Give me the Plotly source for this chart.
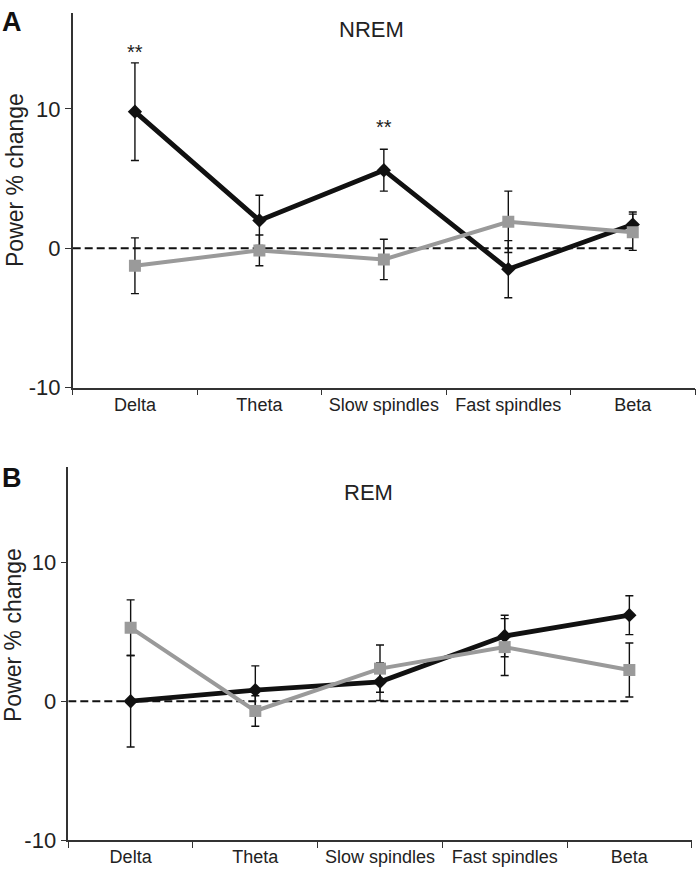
import plotly.graph_objects as go

categories = ["Delta", "Theta", "Slow spindles", "Fast spindles", "Beta"]

nrem_black = [9.8, 2.0, 5.6, -1.5, 1.7]
nrem_black_err = [3.5, 1.8, 1.5, 2.05, 0.9]
nrem_gray = [-1.25, -0.15, -0.8, 1.9, 1.15]
nrem_gray_err = [2.0, 1.1, 1.45, 2.2, 1.3]

rem_black = [0.0, 0.8, 1.4, 4.7, 6.2]
rem_black_err = [3.3, 1.75, 1.35, 1.5, 1.4]
rem_gray = [5.3, -0.7, 2.35, 3.9, 2.25]
rem_gray_err = [2.0, 1.1, 1.7, 2.05, 1.95]

y_ticks = [-10, 0, 10]
y_ticktext = ["-10", "0", "10"]
y_range = [-10, 16.9]

FONT = "Liberation Sans, Arial, sans-serif"
W, H = 696, 870
BLACK = "#111111"
GRAY = "#9a9a9a"

fig = go.Figure()


def add_panel(xa, ya, black, black_err, gray, gray_err):
    fig.add_trace(go.Scatter(
        x=categories, y=black, xaxis=xa, yaxis=ya, mode="lines+markers",
        line=dict(color=BLACK, width=4.8),
        marker=dict(symbol="diamond", size=11, color=BLACK),
        error_y=dict(type="data", array=black_err, color="#111111",
                     thickness=1.4, width=4),
        showlegend=False, name="black"))
    fig.add_trace(go.Scatter(
        x=categories, y=gray, xaxis=xa, yaxis=ya, mode="lines+markers",
        line=dict(color=GRAY, width=4),
        marker=dict(symbol="square", size=12, color=GRAY),
        error_y=dict(type="data", array=gray_err, color="#111111",
                     thickness=1.4, width=4),
        showlegend=False, name="gray"))


add_panel("x", "y", nrem_black, nrem_black_err, nrem_gray, nrem_gray_err)
add_panel("x2", "y2", rem_black, rem_black_err, rem_gray, rem_gray_err)


def px_x(p):
    return p / W


def px_y(p):
    return (H - p) / H


axis_common = dict(showline=True, linecolor="#333333", linewidth=1.5,
                   ticks="outside", ticklen=6, tickwidth=1.3, tickcolor="#333333",
                   showgrid=False, zeroline=False, automargin=False)

xcommon = dict(axis_common, type="category", tickson="boundaries",
               tickfont=dict(family=FONT, size=18, color="#222222"),
               range=[-0.5, 4.5])
ycommon = dict(axis_common, range=y_range, tickvals=y_ticks, ticktext=y_ticktext,
               tickfont=dict(family=FONT, size=22, color="#222222"))

fig.update_layout(
    width=W, height=H,
    margin=dict(l=0, r=0, t=0, b=0),
    paper_bgcolor="white", plot_bgcolor="white",
    xaxis=dict(xcommon, domain=[px_x(72.7), px_x(695)], anchor="y"),
    yaxis=dict(ycommon, domain=[px_y(387.7), px_y(12.7)], anchor="x"),
    xaxis2=dict(xcommon, domain=[px_x(68.3), px_x(691.7)], anchor="y2"),
    yaxis2=dict(ycommon, domain=[px_y(840), px_y(466.7)], anchor="x2"),
)

for xr, yr in (("x", "y"), ("x2", "y2")):
    fig.add_shape(type="line", xref=xr, yref=yr, x0=-0.5, x1=4, y0=0, y1=0,
                  line=dict(color=BLACK, width=2, dash="8px,4px"), layer="below")

ann = []
# panel letters
ann.append(dict(text="<b>A</b>", x=px_x(0), y=px_y(22), xanchor="left", yanchor="middle",
                font=dict(family=FONT, size=27, color="#111111")))
ann.append(dict(text="<b>B</b>", x=px_x(0), y=px_y(478), xanchor="left", yanchor="middle",
                font=dict(family=FONT, size=27, color="#111111")))
# panel titles
ann.append(dict(text="NREM", x=px_x(371), y=px_y(30), xanchor="center", yanchor="middle",
                font=dict(family=FONT, size=22, color="#222222")))
ann.append(dict(text="REM", x=px_x(368), y=px_y(492), xanchor="center", yanchor="middle",
                font=dict(family=FONT, size=22, color="#222222")))
# y titles
ann.append(dict(text="Power % change", x=px_x(15), y=px_y(180), xanchor="center", yanchor="middle",
                textangle=-90, font=dict(family=FONT, size=23, color="#222222")))
ann.append(dict(text="Power % change", x=px_x(13), y=px_y(635), xanchor="center", yanchor="middle",
                textangle=-90, font=dict(family=FONT, size=23, color="#222222")))
for a in ann:
    a.update(xref="paper", yref="paper", showarrow=False)
    fig.add_annotation(**a)

# significance markers
fig.add_annotation(text="**", x="Delta", y=14.1, xref="x", yref="y", showarrow=False,
                   font=dict(family=FONT, size=20, color="#222222"))
fig.add_annotation(text="**", x="Slow spindles", y=8.7, xref="x", yref="y", showarrow=False,
                   font=dict(family=FONT, size=20, color="#222222"))

fig.write_html("out.html", config={"displayModeBar": False},
               post_script="document.body.style.margin='0';document.body.style.overflow='hidden';")
